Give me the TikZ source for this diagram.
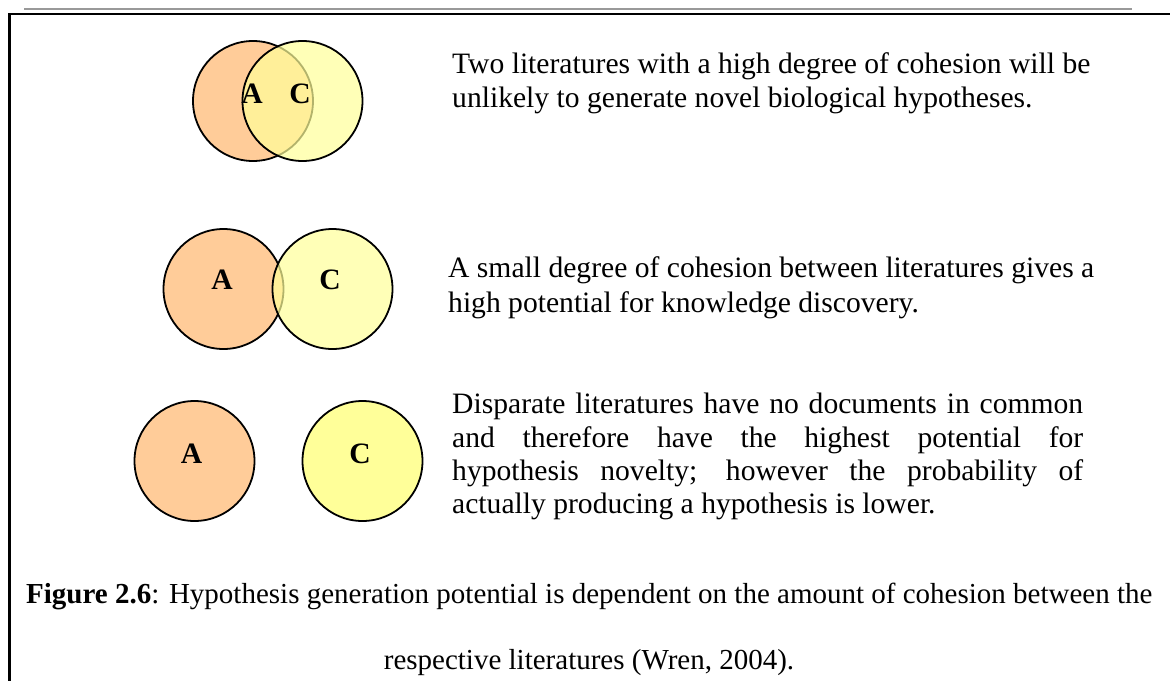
\documentclass[tikz,border=0pt]{standalone}
\usepackage{fontspec}
\setmainfont{Liberation Serif}
\definecolor{orangeA}{HTML}{FFCC99}
\definecolor{yellowC}{HTML}{FFFF99}
\definecolor{rulegray}{HTML}{999999}
\tikzset{
  circA/.style={circle, minimum size=120pt, inner sep=0pt, draw=black, line width=1.8pt, fill=orangeA},
  circC/.style={circle, minimum size=120pt, inner sep=0pt, draw=black, line width=1.8pt, fill=yellowC},
  circCt/.style={circC, fill opacity=0.7, draw opacity=1},
  lbl/.style={font=\fontsize{29.6}{34}\selectfont\bfseries, inner sep=0pt, anchor=base},
  body/.style={font=\fontsize{29.6}{34}\selectfont, inner sep=0pt, anchor=base west},
  capline/.style={font=\fontsize{29}{34}\selectfont, inner sep=0pt},
}
\begin{document}
\begin{tikzpicture}[x=1pt,y=-1pt]
\useasboundingbox (0,0) rectangle (1170,681);
% rules and frame
\draw[rulegray, line width=2pt] (24,8.5) -- (1132,8.5);
\draw[black, line width=2.5pt] (9,14) -- (1170,14);
\draw[black, line width=3pt] (9,13) -- (9,681);

% row 1: high cohesion
\node[circA] (a1) at (253,101) {};
\node[circCt] (c1) at (302.5,101) {};
\node[lbl] (la1) at (252,103) {A};
\node[lbl] (lc1) at (300,103) {C};
\node[body] (t11) at (452,73) {Two literatures with a high degree of cohesion will be};
\node[body] (t12) at (452,107) {unlikely to generate novel biological hypotheses.};

% row 2: small cohesion
\node[circA] (a2) at (223.5,289) {};
\node[circCt] (c2) at (332.5,289) {};
\node[lbl] (la2) at (222,289) {A};
\node[lbl] (lc2) at (330,289) {C};
\node[body] (t21) at (448,277) {A small degree of cohesion between literatures gives a};
\node[body] (t22) at (448,312) {high potential for knowledge discovery.};

% row 3: disparate
\node[circA] (a3) at (194.5,461) {};
\node[circC] (c3) at (362.5,461) {};
\node[lbl] (la3) at (191.5,463) {A};
\node[lbl] (lc3) at (360,463) {C};
\node[body] (t31) at (452,413) {\makebox[631pt][s]{Disparate literatures have no documents in common}};
\node[body] (t32) at (452,447) {\makebox[631pt][s]{and therefore have the highest potential for}};
\node[body] (t33) at (452,480) {\makebox[631pt][s]{hypothesis novelty; however the probability of}};
\node[body] (t34) at (452,513) {actually producing a hypothesis is lower.};

% caption
\node[capline, anchor=base west] (cap1) at (26,603) {\textbf{Figure 2.6}: Hypothesis generation potential is dependent on the amount of cohesion between the};
\node[capline, anchor=base] (cap2) at (589,669) {respective literatures (Wren, 2004).};
\end{tikzpicture}
\end{document}
